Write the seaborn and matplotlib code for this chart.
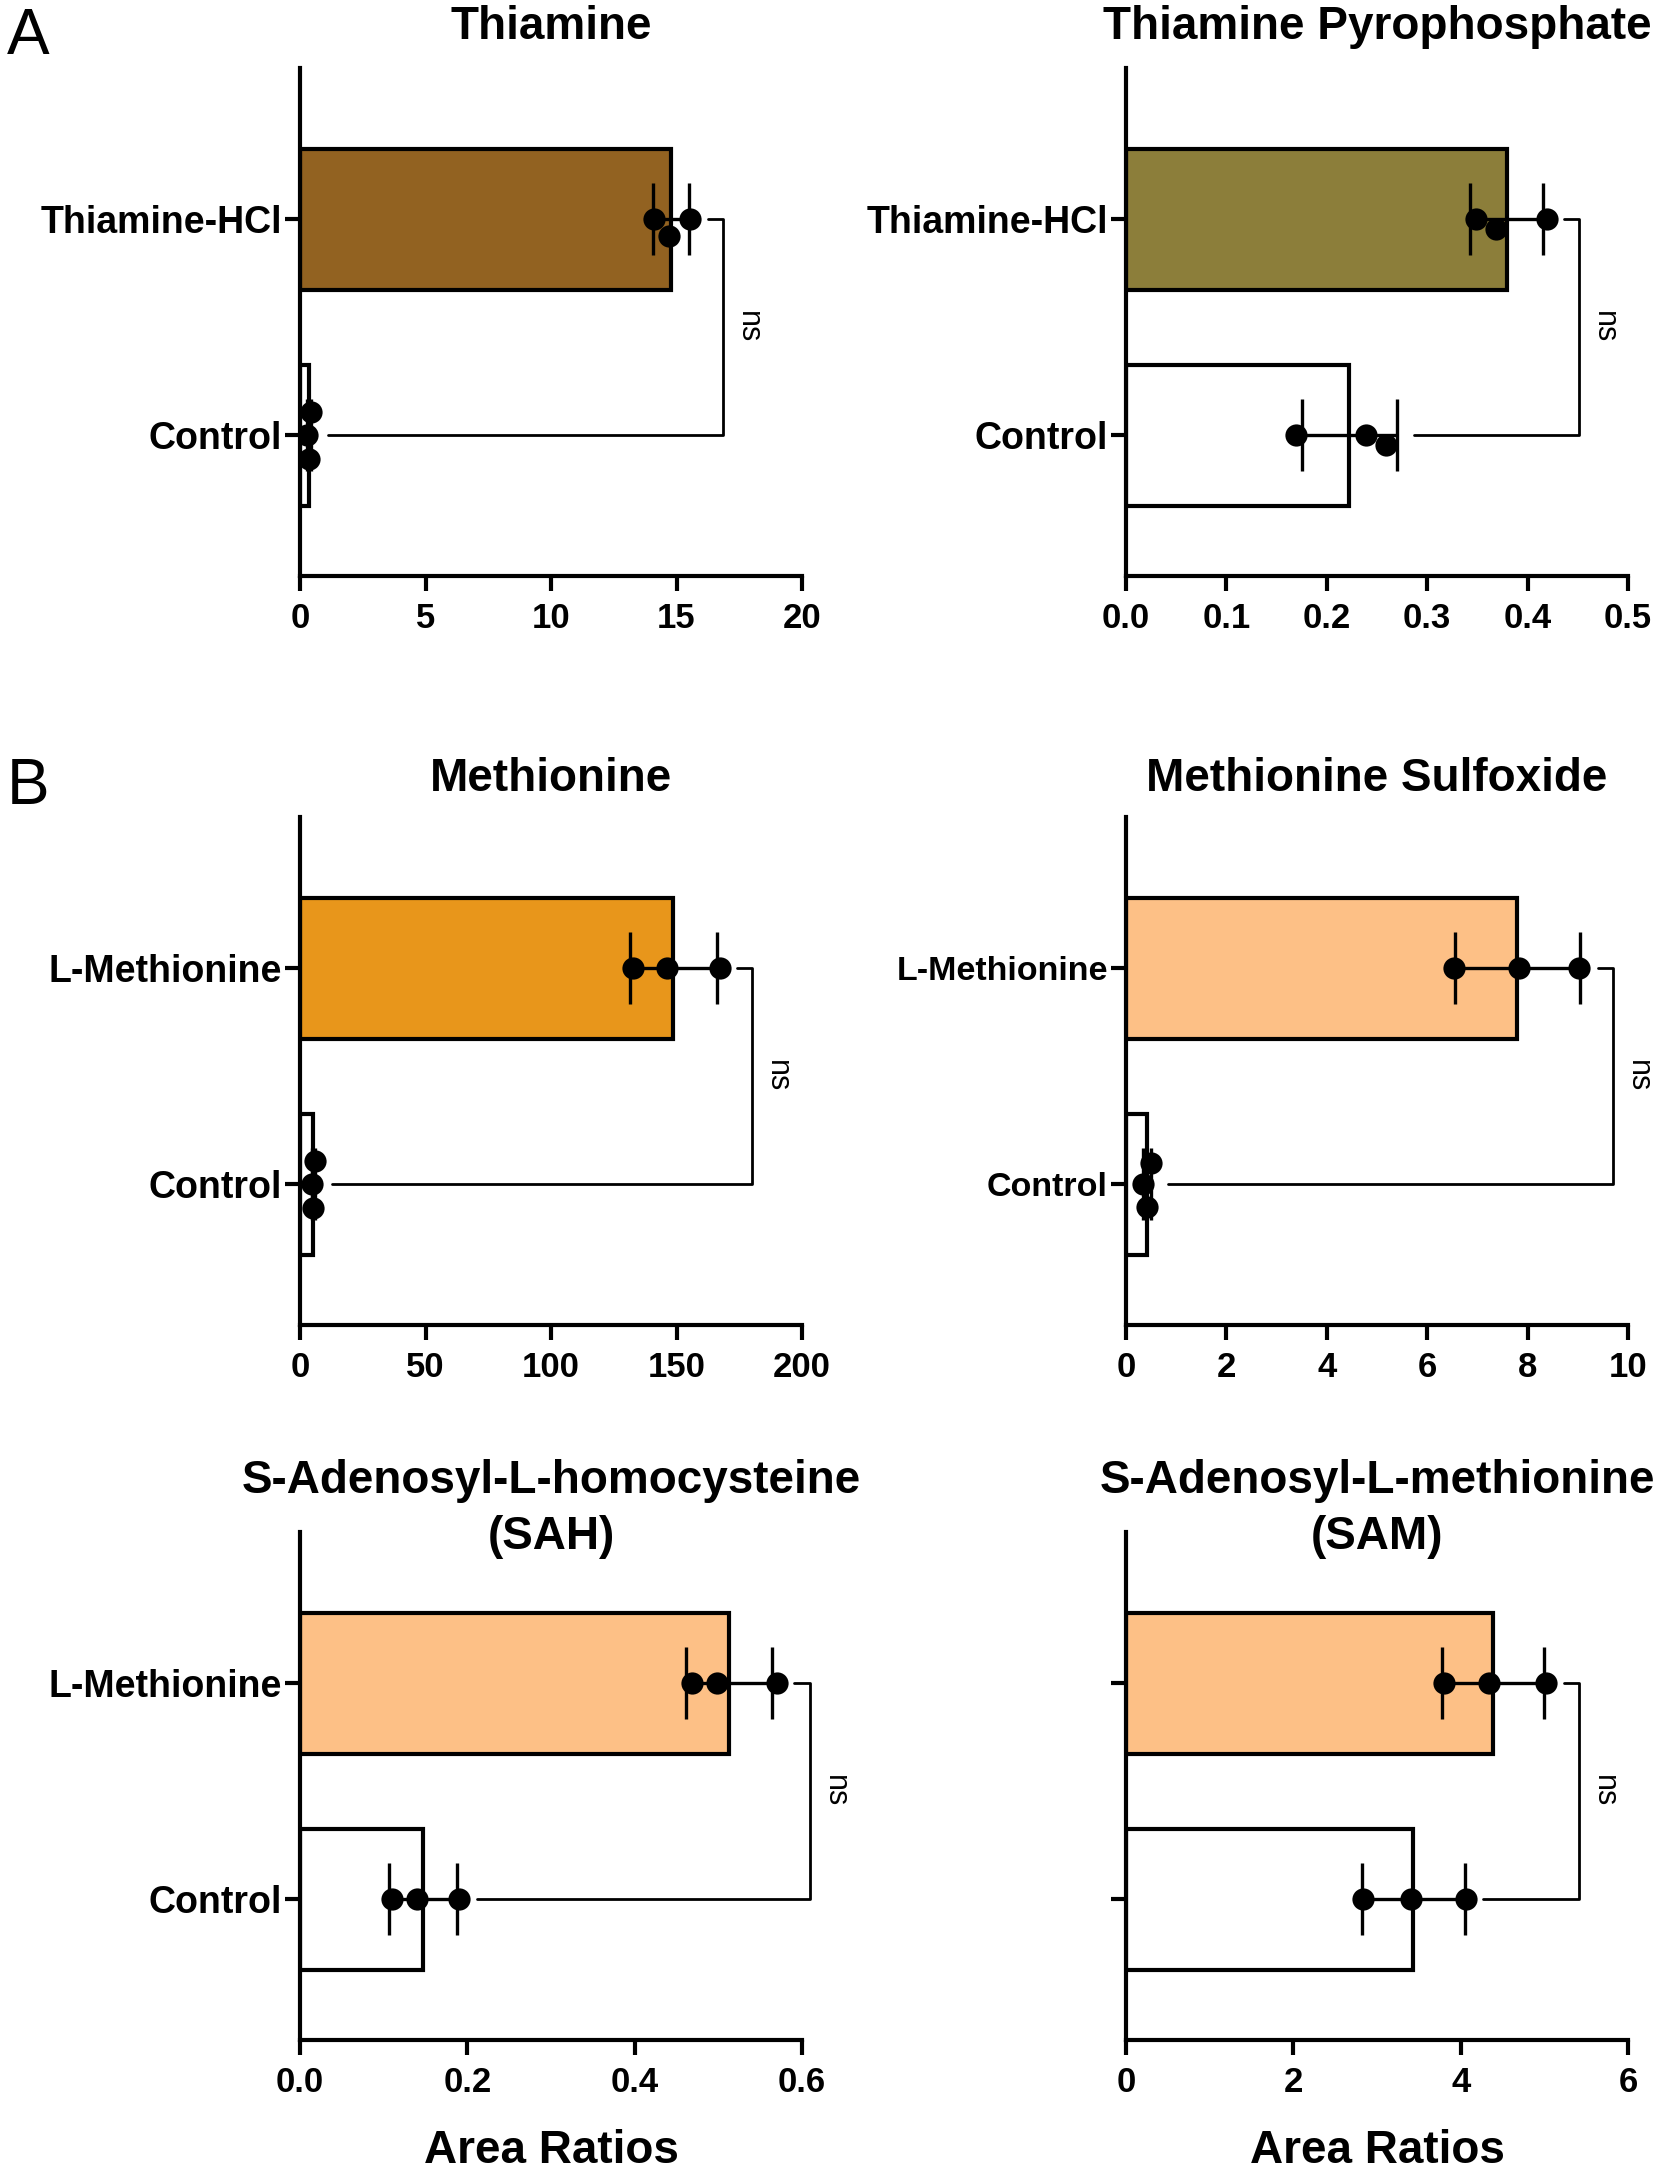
import numpy as np
import pandas as pd
import matplotlib
matplotlib.use("Agg")
import matplotlib.pyplot as plt
import seaborn as sns

# values (three replicates per group)
thiamine_hcl = [14.1, 14.7, 15.55]
thiamine_ctrl = [0.35, 0.42, 0.28]
tpp_hcl = [0.349, 0.369, 0.419]
tpp_ctrl = [0.169, 0.239, 0.259]
met_lmet = [132.6, 146.4, 167.2]
met_ctrl = [5.0, 5.9, 4.8]
metso_lmet = [6.53, 7.83, 9.03]
metso_ctrl = [0.42, 0.49, 0.33]
sah_lmet = [0.469, 0.499, 0.570]
sah_ctrl = [0.110, 0.140, 0.190]
sam_lmet = [3.80, 4.34, 5.02]
sam_ctrl = [2.83, 3.41, 4.06]

titles = ["Thiamine", "Thiamine Pyrophosphate", "Methionine", "Methionine Sulfoxide",
          "S-Adenosyl-L-homocysteine\n(SAH)", "S-Adenosyl-L-methionine\n(SAM)"]
treat_names = ["Thiamine-HCl", "Thiamine-HCl", "L-Methionine", "L-Methionine",
               "L-Methionine", "L-Methionine"]
treat_colors = ["#926221", "#8C7E3A", "#E8961B", "#FDC086", "#FDC086", "#FDC086"]
xticks = [[0, 5, 10, 15, 20], [0, 0.1, 0.2, 0.3, 0.4, 0.5], [0, 50, 100, 150, 200],
          [0, 2, 4, 6, 8, 10], [0, 0.2, 0.4, 0.6], [0, 2, 4, 6]]
xfmt = ["{:.0f}", "{:.1f}", "{:.0f}", "{:.0f}", "{:.1f}", "{:.0f}"]
treated = [thiamine_hcl, tpp_hcl, met_lmet, metso_lmet, sah_lmet, sam_lmet]
controls = [thiamine_ctrl, tpp_ctrl, met_ctrl, metso_ctrl, sah_ctrl, sam_ctrl]

sns.set_theme(style="ticks")
plt.rcParams["font.family"] = ["Liberation Sans", "DejaVu Sans"]
plt.rcParams["axes.linewidth"] = 3
plt.rcParams["text.color"] = "black"
plt.rcParams["xtick.color"] = "black"
plt.rcParams["ytick.color"] = "black"
plt.rcParams["axes.edgecolor"] = "black"

fig = plt.figure(figsize=(16.66, 21.83), dpi=100)

W, H = 1666, 2183
lefts = [300, 1126]
bottoms = [576, 1325, 2040]
ax_w, ax_h = 502, 508

for i in range(6):
    row, col = i // 2, i % 2
    ax = fig.add_axes([lefts[col] / W, 1 - bottoms[row] / H, ax_w / W, ax_h / H])
    xmax = xticks[i][-1]
    ax.set_xlim(0, xmax)

    df = pd.DataFrame({
        "group": [treat_names[i]] * 3 + ["Control"] * 3,
        "value": list(treated[i]) + list(controls[i]),
    })
    order = [treat_names[i], "Control"]

    sns.barplot(data=df, x="value", y="group", order=order, orient="h",
                errorbar=None, width=0.65, hue="group", hue_order=order,
                palette=[treat_colors[i], "white"], saturation=1, edgecolor="black",
                linewidth=3, legend=False, ax=ax)

    means = df.groupby("group")["value"].mean().reindex(order)
    sds = df.groupby("group")["value"].std().reindex(order)
    ax.errorbar(means.values, [0, 1], xerr=sds.values, fmt="none", ecolor="black",
                elinewidth=2.4, capsize=26, capthick=2.4, zorder=4)

    sns.swarmplot(data=df, x="value", y="group", order=order, orient="h",
                  color="black", size=16, ax=ax, zorder=5)

    # ns bracket
    tops = [max(max(treated[i]), means.iloc[0] + sds.iloc[0]),
            max(max(controls[i]), means.iloc[1] + sds.iloc[1])]
    xv = max(tops) + 0.065 * xmax
    ax.plot([tops[0] + 0.035 * xmax, xv, xv, tops[1] + 0.035 * xmax], [0, 0, 1, 1],
            color="black", lw=2, clip_on=False, zorder=3)
    ax.text(xv + 0.05 * xmax, 0.5, "ns", rotation=-90, ha="center", va="center",
            fontsize=22)

    ax.set_ylim(1.65, -0.7)
    ax.set_xticks(xticks[i])
    ax.set_xticklabels([xfmt[i].format(t) for t in xticks[i]], fontsize=25,
                       fontweight="bold")
    ysize = 24.5 if i == 3 else 27
    ax.set_yticks([0, 1])
    if i == 5:
        ax.set_yticklabels(["", ""])
    else:
        ax.set_yticklabels(order, fontsize=ysize, fontweight="bold")
    ax.tick_params(axis="x", length=11, width=3, pad=8, color="black")
    ax.tick_params(axis="y", length=11, width=3, pad=2, color="black")
    ax.set_xlabel("")
    ax.set_ylabel("")
    sns.despine(ax=ax)

    ty = 0.045 if row == 2 else (0.08 if row == 0 else 0.075)
    ax.text(0.5, 1 + ty, titles[i], transform=ax.transAxes, ha="center",
            va="center", fontsize=33, fontweight="bold", linespacing=1.35)
    if row == 2:
        ax.text(0.5, -0.2185, "Area Ratios", transform=ax.transAxes, ha="center",
                va="center", fontsize=33, fontweight="bold")

fig.text(0.004, 1 - 7 / H, "A", ha="left", va="top", fontsize=46)
fig.text(0.004, 1 - 757 / H, "B", ha="left", va="top", fontsize=46)

fig.savefig("out.png", dpi=100)
